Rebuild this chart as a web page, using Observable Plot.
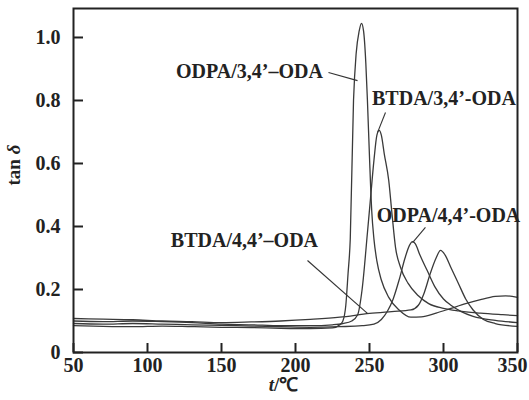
<!DOCTYPE html>
<html><head><meta charset="utf-8">
<script src="https://cdn.jsdelivr.net/npm/d3@7"></script>
<script src="https://cdn.jsdelivr.net/npm/@observablehq/plot@0.6"></script>
<style>body{margin:0;background:#fff}</style>
</head><body><div id="chart"></div>
<script>
// temperature (°C) and tan δ for each film
const tA = [50,70,90,110,130,150,170,190,210,225,230,232,234,235.5,237,239.2,241,243,244.6,246,247.5,248.6,250,251.5,253,255,258,263,270,278,285,295,305,315,325,335,342,350];
const yA = [0.085,0.083,0.082,0.084,0.082,0.080,0.079,0.077,0.076,0.078,0.088,0.10,0.15,0.25,0.36,0.80,0.95,1.02,1.045,1.02,0.92,0.80,0.62,0.45,0.36,0.29,0.23,0.175,0.135,0.112,0.113,0.125,0.140,0.155,0.168,0.178,0.180,0.175];
const tB = [50,70,90,110,130,150,170,190,210,225,232,238,242,245,248.6,250.7,253,255,256.5,258,260,263,265,267.6,271,276,283,290,300,310,325,340,350];
const yB = [0.100,0.098,0.100,0.098,0.095,0.090,0.088,0.085,0.085,0.088,0.092,0.10,0.12,0.20,0.38,0.49,0.61,0.69,0.705,0.69,0.63,0.546,0.45,0.333,0.27,0.22,0.18,0.155,0.140,0.132,0.125,0.120,0.117];
const tC = [50,70,90,110,130,150,170,190,210,230,245,253,258,262,266,270,274,277,279,281,284,289,294,300,305,312,320,335,350];
const yC = [0.092,0.090,0.092,0.090,0.088,0.086,0.084,0.082,0.080,0.082,0.085,0.090,0.105,0.13,0.17,0.23,0.30,0.34,0.352,0.345,0.31,0.26,0.21,0.17,0.15,0.13,0.115,0.102,0.095];
const tD = [50,70,90,110,130,150,170,190,210,230,250,265,278,283,287,291,295,298,301,305,310,315,320,327,335,350];
const yD = [0.108,0.106,0.104,0.100,0.098,0.095,0.097,0.100,0.105,0.112,0.124,0.130,0.135,0.15,0.19,0.25,0.30,0.324,0.31,0.27,0.22,0.17,0.135,0.105,0.092,0.083];
const seriesNames = ["ODPA/3,4’–ODA","BTDA/3,4’-ODA","ODPA/4,4’-ODA","BTDA/4,4’–ODA"];

// tick values
const xTicks = [50,100,150,200,250,300,350];
const yTicks = [0,0.2,0.4,0.6,0.8,1.0];

// annotation labels (data coordinates) and their leader lines
const labelText = seriesNames;
const labelT = [168.9, 300.3, 303.4, 165.5];
const labelV = [0.892, 0.806, 0.435, 0.356];
const leadT1 = [222.3, 260.8, 287.8, 208.1];
const leadV1 = [0.889, 0.762, 0.397, 0.292];
const leadT2 = [241.9, 255.4, 279.1, 248.6];
const leadV2 = [0.863, 0.698, 0.349, 0.124];

const rows = [];
[[tA,yA],[tB,yB],[tC,yC],[tD,yD]].forEach(([ts,vs],i)=>{
  ts.forEach((t,j)=>rows.push({s:seriesNames[i], t, v:vs[j]}));
});
const labels = labelText.map((s,i)=>({s, t:labelT[i], v:labelV[i]}));
const leads = labelText.map((s,i)=>({t1:leadT1[i], v1:leadV1[i], t2:leadT2[i], v2:leadV2[i]}));

const W = 529, H = 400, ML = 73, MR = 12, MT = 8, MB = 48;
const font = "Liberation Serif, Times New Roman, serif";

const svg = Plot.plot({
  width: W, height: H,
  marginLeft: ML, marginRight: MR, marginTop: MT, marginBottom: MB,
  style: {fontFamily: font, fontSize: "20px", fontWeight: "bold", color: "#222", background: "#fff"},
  x: {domain: [50, 350]},
  y: {domain: [0, 1.092]},
  marks: [
    Plot.line(rows, {x: "t", y: "v", z: "s", curve: "monotone-x", stroke: "#3a3a3a", strokeWidth: 1.3}),
    Plot.link(leads, {x1: "t1", y1: "v1", x2: "t2", y2: "v2", stroke: "#333", strokeWidth: 1.1}),
    Plot.text(labels, {x: "t", y: "v", text: "s", fontSize: 20, fontWeight: "bold", fill: "#222", textAnchor: "middle"}),
    Plot.tickX(xTicks, {x: d => d, insetTop: H - MT - MB - 9, stroke: "#222", strokeWidth: 2}),
    Plot.tickY(yTicks, {y: d => d, insetRight: W - ML - MR - 10, stroke: "#222", strokeWidth: 2}),
    Plot.axisX({ticks: xTicks, tickSize: 0, tickPadding: 5, label: null, fontSize: 20}),
    Plot.axisY({ticks: yTicks, tickSize: 0, tickPadding: 13, label: null, fontSize: 20,
      tickFormat: d => d === 0 ? "0" : d.toFixed(1)}),
    Plot.text(["tan δ"], {frameAnchor: "left", dx: -60, dy: 5, rotate: -90, fontSize: 19, fontWeight: "bold", fill: "#222"}),
    Plot.text(["t/℃"], {frameAnchor: "bottom", dx: -12, dy: 38, fontSize: 19, fontWeight: "bold", fill: "#222"}),
    Plot.frame({stroke: "#222", strokeWidth: 2})
  ]
});

// italic parts of the axis titles; keep the last x tick label inside the picture
d3.select(svg).selectAll("text").each(function(){
  const el = d3.select(this);
  const txt = this.textContent;
  if (txt === "tan δ") {
    el.text(null);
    el.append("tspan").text("tan ");
    el.append("tspan").attr("font-style","italic").text("δ");
  } else if (txt === "t/℃") {
    el.text(null);
    el.append("tspan").attr("font-style","italic").text("t");
    el.append("tspan").text("/℃");
  } else if (txt === "350" && this.children.length === 0) {
    el.attr("dx", -5);
  }
});

document.getElementById("chart").appendChild(svg);
</script></body></html>
